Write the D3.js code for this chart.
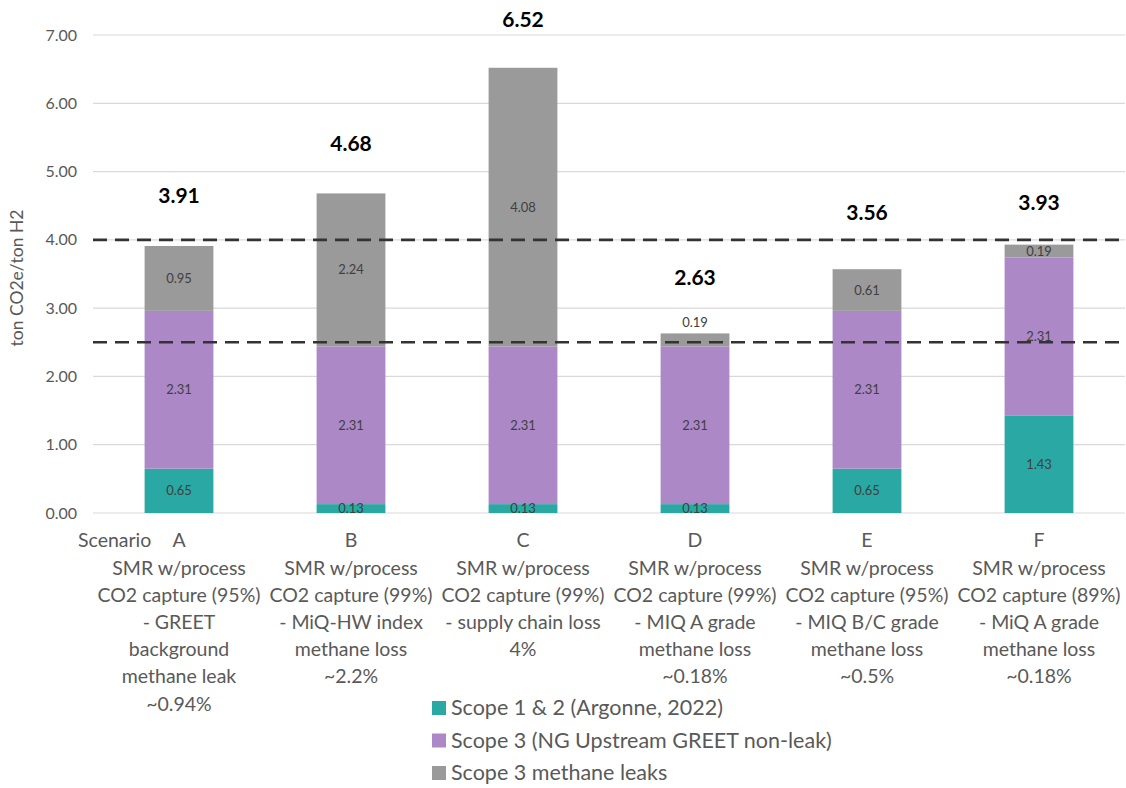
<!DOCTYPE html>
<html>
<head>
<meta charset="utf-8">
<script src="https://cdn.jsdelivr.net/npm/d3@7/dist/d3.min.js"></script>
<style>
  html, body { margin: 0; padding: 0; background: #fff; }
  svg { display: block; font-family: Lato, "Open Sans", sans-serif; }
</style>
</head>
<body>
<svg id="chart" width="1126" height="788"></svg>
<script>
// Scenarios and their multi-line descriptions
const scenarios = ["A", "B", "C", "D", "E", "F"];
const descriptions = [
  ["SMR w/process", "CO2 capture (95%)", "- GREET", "background", "methane leak", "~0.94%"],
  ["SMR w/process", "CO2 capture (99%)", "- MiQ-HW index", "methane loss", "~2.2%"],
  ["SMR w/process", "CO2 capture (99%)", "- supply chain loss", "4%"],
  ["SMR w/process", "CO2 capture (99%)", "- MIQ A grade", "methane loss", "~0.18%"],
  ["SMR w/process", "CO2 capture (95%)", "- MIQ B/C grade", "methane loss", "~0.5%"],
  ["SMR w/process", "CO2 capture (89%)", "- MiQ A grade", "methane loss", "~0.18%"]
];

// Emission components (ton CO2e / ton H2)
const scope12 = [0.65, 0.13, 0.13, 0.13, 0.65, 1.43];
const scope3Upstream = [2.31, 2.31, 2.31, 2.31, 2.31, 2.31];
const scope3Leaks = [0.95, 2.24, 4.08, 0.19, 0.61, 0.19];
const totals = [3.91, 4.68, 6.52, 2.63, 3.56, 3.93];

const seriesNames = ["Scope 1 & 2 (Argonne, 2022)", "Scope 3 (NG Upstream GREET non-leak)", "Scope 3 methane leaks"];
const seriesColors = ["#2aa8a3", "#ac88c7", "#9a9a9a"];

// Reference thresholds drawn as dashed lines
const thresholds = [4.0, 2.5];
const yTicks = [0, 1, 2, 3, 4, 5, 6, 7];

// Hand-placed total labels: gap (px) between bar top and label centre
const totalLabelGap = [51, 50, 48, 56, 57, 42];

const svg = d3.select("#chart");
const plotLeft = 93, plotRight = 1125, plotTop = 35, plotBottom = 513;

const x = d3.scaleBand().domain(scenarios).range([plotLeft, plotRight]).paddingInner(0.6).paddingOuter(0.3);
const y = d3.scaleLinear().domain([0, 7]).range([plotBottom, plotTop]);

// Gridlines
svg.append("g").selectAll("line").data(yTicks).join("line")
  .attr("x1", plotLeft).attr("x2", plotRight)
  .attr("y1", d => y(d)).attr("y2", d => y(d))
  .attr("stroke", "#d9d9d9").attr("stroke-width", 1.2);

// Y axis
const yAxis = d3.axisLeft(y).tickValues(yTicks).tickFormat(d3.format(".2f")).tickSize(0).tickPadding(0);
const yg = svg.append("g").attr("transform", `translate(77,0)`).call(yAxis);
yg.select(".domain").remove();
yg.selectAll("text").attr("font-size", 16).attr("fill", "#595959").attr("font-family", "Lato, sans-serif");

svg.append("text")
  .attr("transform", `translate(23,${(plotTop + plotBottom) / 2 + 4}) rotate(-90)`)
  .attr("text-anchor", "middle").attr("font-size", 17.5).attr("fill", "#595959")
  .text("ton CO2e/ton H2");

// Stacked bars
const rows = scenarios.map((s, i) => ({ key: s, s0: scope12[i], s1: scope3Upstream[i], s2: scope3Leaks[i] }));
const stack = d3.stack().keys(["s0", "s1", "s2"])(rows);

const layers = svg.append("g").selectAll("g").data(stack).join("g")
  .attr("fill", (d, i) => seriesColors[i]);
layers.selectAll("rect").data(d => d).join("rect")
  .attr("x", d => x(d.data.key))
  .attr("width", x.bandwidth())
  .attr("y", d => y(d[1]))
  .attr("height", d => y(d[0]) - y(d[1]));

// Segment value labels
const segLabels = svg.append("g").attr("font-size", 13).attr("fill", "#404040").attr("text-anchor", "middle");
stack.forEach((layer, li) => {
  layer.forEach(d => {
    const v = d[1] - d[0];
    let cy = (y(d[0]) + y(d[1])) / 2;
    // Small leak slice in scenario D sits just above the bar
    if (li === 2 && d.data.key === "D") cy = y(d[1]) - 11;
    segLabels.append("text")
      .attr("x", x(d.data.key) + x.bandwidth() / 2)
      .attr("y", cy + 4.5)
      .text(d3.format(".2f")(v));
  });
});

// Dashed threshold lines
svg.append("g").selectAll("line").data(thresholds).join("line")
  .attr("x1", plotLeft).attr("x2", plotRight)
  .attr("y1", d => y(d)).attr("y2", d => y(d))
  .attr("stroke", "#333").attr("stroke-width", 2.6).attr("stroke-dasharray", "14,8");

// Totals above bars
svg.append("g").selectAll("text").data(scenarios).join("text")
  .attr("x", d => x(d) + x.bandwidth() / 2)
  .attr("y", (d, i) => y(totals[i]) - totalLabelGap[i] + 7.5)
  .attr("text-anchor", "middle").attr("font-size", 21).attr("font-weight", "bold").attr("fill", "#000")
  .text((d, i) => d3.format(".2f")(totals[i]));

// Category labels
const xl = svg.append("g").attr("font-size", 19.5).attr("fill", "#595959").attr("text-anchor", "middle");
scenarios.forEach((s, i) => {
  const cx = x(s) + x.bandwidth() / 2;
  const t = xl.append("text").attr("x", cx).attr("y", 547);
  [s].concat(descriptions[i]).forEach((line, li) => {
    t.append("tspan").attr("x", cx).attr("dy", li === 0 ? 0 : (li === 1 ? 28 : 27.1)).text(line);
  });
});
svg.append("text").attr("x", 78).attr("y", 547).attr("font-size", 19.5).attr("fill", "#595959").text("Scenario");

// Legend
const legend = svg.append("g");
seriesNames.forEach((name, i) => {
  const ly = 708 + i * 32.5;
  legend.append("rect").attr("x", 432).attr("y", ly - 7).attr("width", 14).attr("height", 14).attr("fill", seriesColors[i]);
  legend.append("text").attr("x", 451).attr("y", ly + 7).attr("font-size", 21.5).attr("fill", "#595959").text(name);
});
</script>
</body>
</html>
